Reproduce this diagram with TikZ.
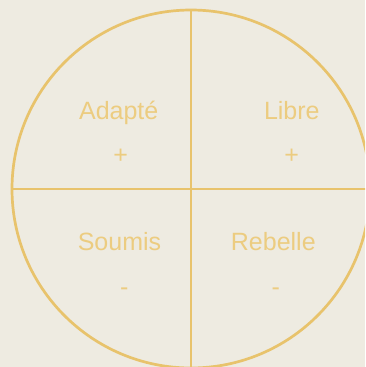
\documentclass[tikz,border=0pt]{standalone}
\usepackage{fontspec}
\setmainfont{Liberation Sans}
\definecolor{bgc}{RGB}{238,235,225}
\definecolor{linec}{RGB}{232,195,108}
\definecolor{textc}{RGB}{236,204,128}
\begin{document}
\begin{tikzpicture}[x=1pt,y=-1pt,
  lbl/.style={text=textc,font=\fontsize{25}{30}\selectfont,inner sep=0pt,anchor=base},
  sgn/.style={text=textc,font=\fontsize{25}{30}\selectfont,inner sep=0pt,anchor=center},
  ring/.style={draw=linec,line width=2.7pt}]
\fill[bgc] (0,0) rectangle (365,367);
\useasboundingbox (0,0) rectangle (365,367);
\clip (0,0) rectangle (365,367);
\coordinate (c) at (191,189);
\draw[ring] (c) circle[radius=179];
\coordinate (top) at (191,10);
\coordinate (bot) at (191,370);
\coordinate (lft) at (12,189);
\coordinate (rgt) at (370,189);
\draw[ring] (top) -- (bot);
\draw[ring] (lft) -- (rgt);
\node[lbl] (adapte) at (118.7,119.3) {Adapté};
\node[lbl] (libre) at (291.8,119.3) {Libre};
\node[lbl] (soumis) at (119.5,250) {Soumis};
\node[lbl] (rebelle) at (273.3,250) {Rebelle};
\node[sgn] (p1) at (120.7,156.5) {+};
\node[sgn] (p2) at (291.7,156.5) {+};
\node[sgn] (m1) at (124.2,292) {-};
\node[sgn] (m2) at (275.8,292) {-};
\end{tikzpicture}
\end{document}
